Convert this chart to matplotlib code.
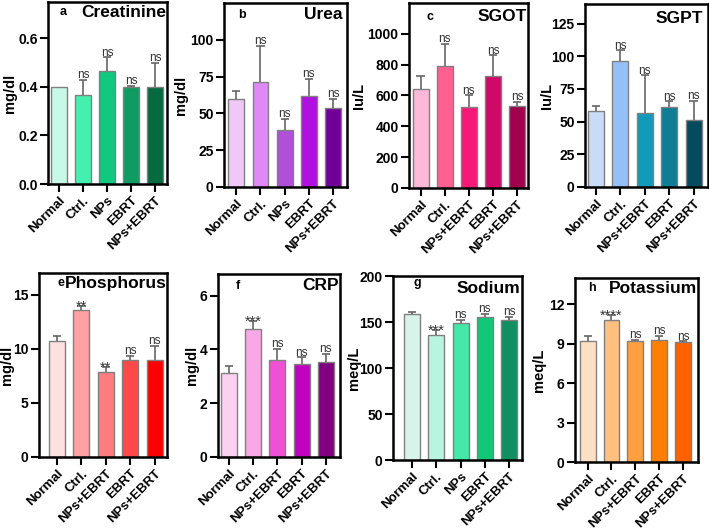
import numpy as np
import matplotlib
matplotlib.use("Agg")
import matplotlib.pyplot as plt

plt.rcParams['font.family'] = ['Liberation Sans', 'DejaVu Sans']

# group labels
groups_nps = ['Normal', 'Ctrl.', 'NPs', 'EBRT', 'NPs+EBRT']
groups_combo = ['Normal', 'Ctrl.', 'NPs+EBRT', 'EBRT', 'NPs+EBRT']

# a - creatinine
creat_mean = [0.398, 0.367, 0.466, 0.398, 0.398]
creat_err = [0.0, 0.061, 0.056, 0.006, 0.102]
creat_sig = ['', 'ns', 'ns', 'ns', 'ns']
creat_ticks = [0.0, 0.2, 0.4, 0.6]

# b - urea
urea_mean = [59.5, 71.5, 38.5, 61.7, 53.6]
urea_err = [5.5, 24.5, 8.0, 11.7, 6.4]
urea_sig = ['', 'ns', 'ns', 'ns', 'ns']
urea_ticks = [0, 25, 50, 75, 100]

# c - SGOT
sgot_mean = [645, 789, 523, 725, 531]
sgot_err = [82, 146, 79, 135, 28]
sgot_sig = ['', 'ns', 'ns', 'ns', 'ns']
sgot_ticks = [0, 200, 400, 600, 800, 1000]

# d - SGPT
sgpt_mean = [57.9, 96.7, 56.6, 61.0, 51.5]
sgpt_err = [4.3, 7.9, 28.9, 4.6, 14.5]
sgpt_sig = ['', 'ns', 'ns', 'ns', 'ns']
sgpt_ticks = [0, 25, 50, 75, 100, 125]

# e - phosphorus
phos_mean = [10.73, 13.55, 7.89, 8.97, 8.97]
phos_err = [0.47, 0.43, 0.46, 0.40, 1.30]
phos_sig = ['', '**', '**', 'ns', 'ns']
phos_ticks = [0, 5, 10, 15]

# f - CRP
crp_mean = [3.12, 4.75, 3.59, 3.45, 3.53]
crp_err = [0.27, 0.32, 0.43, 0.25, 0.31]
crp_sig = ['', '***', 'ns', 'ns', 'ns']
crp_ticks = [0, 2, 4, 6]

# g - sodium
na_mean = [158.2, 136.4, 149.1, 155.6, 152.7]
na_err = [2.5, 5.4, 3.6, 3.3, 2.9]
na_sig = ['', '***', 'ns', 'ns', 'ns']
na_ticks = [0, 50, 100, 150, 200]

# h - potassium
k_mean = [9.2, 10.8, 9.23, 9.25, 9.1]
k_err = [0.36, 0.39, 0.05, 0.36, 0.08]
k_sig = ['', '****', 'ns', 'ns', 'ns']
k_ticks = [0, 3, 6, 9, 12]

W, H = 709, 531
fig = plt.figure(figsize=(W / 100, H / 100), dpi=100)


def draw_panel(rect, labels, means, errs, sigs, colors, ticks, ymax, fmt,
               ylabel, letter, title, xlim, ylab_off, letter_pos, title_pos):
    l, t, r, b = rect
    ax = fig.add_axes([l / W, 1 - b / H, (r - l) / W, (b - t) / H])
    x = np.arange(len(means))
    means = np.array(means)
    errs = np.array(errs)
    ax.bar(x, means, width=0.66, color=colors, edgecolor='#808080',
           linewidth=1.0, zorder=2)
    has = errs > 0
    tops = means + errs
    ax.vlines(x[has], means[has], tops[has], color='#666666', lw=1.2, zorder=3)
    ax.hlines(tops[has], x[has] - 0.17, x[has] + 0.17, color='#666666',
              lw=1.2, zorder=3)
    for xi, top, s in zip(x, tops, sigs):
        if not s:
            continue
        if s == 'ns':
            ax.annotate(s, (xi, top), xytext=(0, 1.2), textcoords='offset points',
                        ha='center', va='baseline', fontsize=8.5, color='#333333')
        else:
            ax.annotate(s, (xi, top), xytext=(0, -3.5), textcoords='offset points',
                        ha='center', va='baseline', fontsize=10.5, color='#333333')
    ax.set_xlim(*xlim)
    ax.set_ylim(0, ymax)
    ax.set_yticks(ticks)
    ax.set_yticklabels([fmt.format(v) for v in ticks])
    ax.set_xticks(x)
    ax.set_xticklabels(labels, rotation=45, ha='right', rotation_mode='anchor')
    for lab in ax.get_xticklabels() + ax.get_yticklabels():
        lab.set_fontweight('bold')
    ax.tick_params(axis='both', direction='out', length=5.5, width=1.5,
                   labelsize=10, pad=2)
    ax.tick_params(axis='x', labelsize=9.5)
    for sp in ax.spines.values():
        sp.set_linewidth(1.8)
    ax.set_ylabel(ylabel, fontsize=10.5, fontweight='bold')
    ax.yaxis.set_label_coords(ylab_off / (r - l), 0.5)
    if letter:
        ax.text(letter_pos[0], letter_pos[1], letter, transform=ax.transAxes,
                ha='center', va='center', fontsize=9, fontweight='bold')
    ax.text(title_pos[0], title_pos[1], title, transform=ax.transAxes,
            ha='right', va='center', fontsize=12.5, fontweight='bold')
    return ax


draw_panel((48, 2, 167, 184), groups_nps, creat_mean, creat_err, creat_sig,
           ['#c8f8e6', '#44f0b0', '#10c880', '#0e9c62', '#066a40'],
           creat_ticks, 0.75, '{:.1f}', 'mg/dl', 'a', 'Creatinine',
           (-0.45, 4.49), -31, (0.13, 0.945), (0.995, 0.945))
draw_panel((224, 3, 347, 187), groups_nps, urea_mean, urea_err, urea_sig,
           ['#f0c8f8', '#e088f8', '#b050d8', '#b010e0', '#700098'],
           urea_ticks, 125, '{:d}', 'mg/dl', 'b', 'Urea',
           (-0.51, 4.58), -36, (0.15, 0.935), (0.96, 0.935))
draw_panel((409, 3, 528, 188), groups_combo, sgot_mean, sgot_err, sgot_sig,
           ['#ffb8d8', '#ff6090', '#f81878', '#d00868', '#a0004c'],
           sgot_ticks, 1200, '{:d}', 'Iu/L', 'c', 'SGOT',
           (-0.48, 4.45), -43, (0.18, 0.925), (0.99, 0.925))
draw_panel((585, 4, 708, 187), groups_combo, sgpt_mean, sgpt_err, sgpt_sig,
           ['#c8dcf8', '#94c0fa', '#139ab8', '#0f7d96', '#064a5e'],
           sgpt_ticks, 140, '{:d}', 'Iu/L', '', 'SGPT',
           (-0.45, 4.59), -31, (0.1, 0.92), (0.96, 0.92))
draw_panel((39, 273, 167, 457), groups_combo, phos_mean, phos_err, phos_sig,
           ['#ffe0e0', '#ffa0a4', '#ff7c80', '#ff4848', '#ff0000'],
           phos_ticks, 17, '{:d}', 'mg/dl', 'e', 'Phosphorus',
           (-0.74, 4.51), -25, (0.17, 0.945), (0.995, 0.945))
draw_panel((218, 274, 340, 457), groups_combo, crp_mean, crp_err, crp_sig,
           ['#fcd0f0', '#f8a8e4', '#f050d4', '#c000c0', '#800080'],
           crp_ticks, 6.8, '{:d}', 'mg/dl', 'f', 'CRP',
           (-0.44, 4.58), -19, (0.16, 0.935), (0.99, 0.935))
draw_panel((393, 276, 522, 460), groups_nps, na_mean, na_err, na_sig,
           ['#d8f4ea', '#b8f4e0', '#44e8a8', '#10c878', '#109060'],
           na_ticks, 200, '{:d}', 'meq/L', 'g', 'Sodium',
           (-0.78, 4.53), -32, (0.19, 0.96), (0.99, 0.93))
draw_panel((575, 278, 698, 462), groups_combo, k_mean, k_err, k_sig,
           ['#ffe0c4', '#ffc080', '#ffa040', '#ff8000', '#ff6000'],
           k_ticks, 14, '{:d}', 'meq/L', 'h', 'Potassium',
           (-0.53, 4.63), -29, (0.14, 0.945), (0.99, 0.945))

fig.savefig('out.png', dpi=100)
